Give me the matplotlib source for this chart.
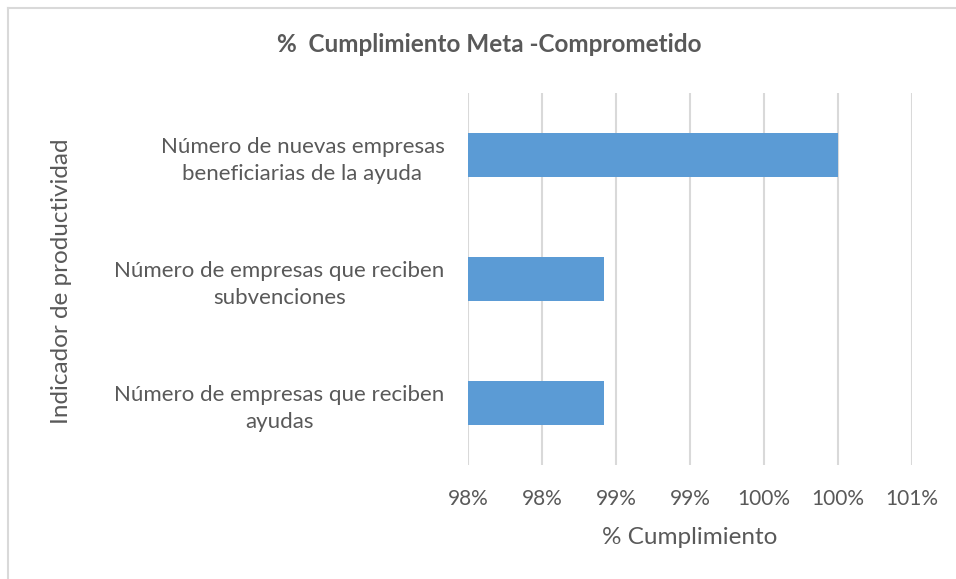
import matplotlib
matplotlib.use("Agg")
import matplotlib.pyplot as plt
from matplotlib.ticker import FuncFormatter, MultipleLocator
from matplotlib.lines import Line2D

categories = [
    "Número de empresas que reciben\nayudas",
    "Número de empresas que reciben\nsubvenciones",
    "Número de nuevas empresas\nbeneficiarias de la ayuda",
]
values = [0.9842, 0.9842, 1.0]

title = "%  Cumplimiento Meta -Comprometido"
xlabel = "% Cumplimiento"
ylabel = "Indicador de productividad"

plt.rcParams['font.family'] = ['Lato', 'DejaVu Sans']
txt = '#595959'

fig = plt.figure(figsize=(9.56, 5.79), dpi=100)
ax = fig.add_axes([468/956, 1-465/579, (912-468)/956, (465-93)/579])

ax.barh(range(len(categories)), values, height=0.355, color='#5b9bd5', zorder=3, left=0)
ax.set_xlim(0.975, 1.005)
ax.set_ylim(-0.5, len(categories)-0.5)
ax.xaxis.set_major_locator(MultipleLocator(0.005))
ax.xaxis.set_major_formatter(FuncFormatter(lambda v, p: f"{int(v*100+0.5+1e-9)}%"))
ax.set_yticks(range(len(categories)))
ax.set_yticklabels(categories, multialignment='center', linespacing=1.45)
ax.grid(axis='x', color='#d9d9d9', linewidth=1.5, zorder=0)
for s in ax.spines.values():
    s.set_visible(False)
ax.tick_params(axis='x', length=0, colors=txt, labelsize=15, pad=17)
ax.tick_params(axis='y', length=0, colors=txt, labelsize=16, pad=17)

ax.set_xlabel(xlabel, fontsize=17.5, color=txt, labelpad=13)
fig.text(62/956, 1-281/579, ylabel, rotation=90, fontsize=17.5, color=txt, ha='center', va='center')
fig.text(489/956, 1-45/579, title, fontsize=17.5, fontweight='bold', color=txt, ha='center', va='center')

fig.add_artist(Line2D([8/956, 8/956], [0, 1-8/579], color='#d9d9d9', linewidth=1.5, transform=fig.transFigure))
fig.add_artist(Line2D([8/956, 1], [1-8/579, 1-8/579], color='#d9d9d9', linewidth=1.5, transform=fig.transFigure))

fig.savefig("out.png", dpi=100)
